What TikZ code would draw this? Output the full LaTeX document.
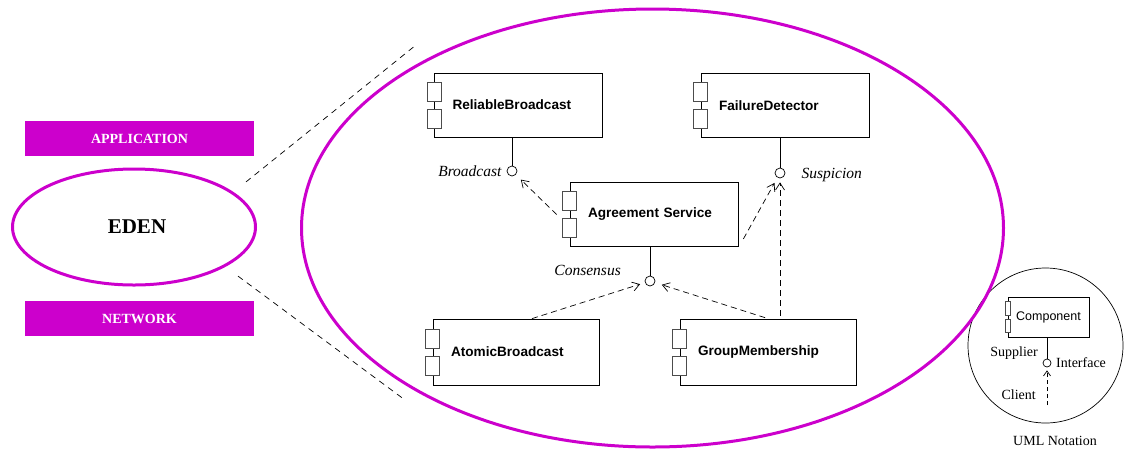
\documentclass[tikz,border=0pt]{standalone}
\usepackage{fontspec}
\setmainfont{Liberation Serif}
\setsansfont{Liberation Sans}
\usetikzlibrary{shapes.geometric,arrows.meta,positioning}
\definecolor{edenmag}{RGB}{204,0,204}

\begin{document}
\begin{tikzpicture}[x=1pt,y=-1pt,
  layer/.style={fill=edenmag, minimum width=229pt, minimum height=35pt, inner sep=0pt,
    text=white, font=\bfseries\fontsize{14}{16}\selectfont},
  comp/.style={draw, line width=0.8pt, rectangle, minimum width=168pt, minimum height=64pt,
    inner sep=0pt, text width=132pt, align=left, font=\sffamily\bfseries\fontsize{13.6}{15}\selectfont},
  port/.style={draw=black!70, fill=white, line width=0.7pt},
  iface/.style={circle, draw, line width=0.7pt, minimum size=10pt, inner sep=0pt},
  lbl/.style={font=\itshape\fontsize{15.5}{18}\selectfont, inner sep=0pt, text height=10pt, text depth=0pt},
  note/.style={font=\fontsize{14}{16}\selectfont, inner sep=0pt, text height=9.5pt, text depth=0pt},
  dep/.style={line width=0.7pt, dash pattern=on 6pt off 4pt, -{Straight Barb[length=7pt,width=9pt]}},
  zoomline/.style={line width=0.7pt, dash pattern=on 6pt off 5pt}]

  \useasboundingbox (0,0) rectangle (1124,451);

  % Left side: layers and EDEN
  \node[layer] (app) at (139.5,138.5) {APPLICATION};
  \node[layer] (net) at (139.5,318.5) {NETWORK};
  \node[ellipse, draw=edenmag, line width=3pt, minimum width=243pt, minimum height=116pt,
    inner sep=0pt, font=\bfseries\fontsize{21}{23}\selectfont] (eden) at (134,227) {\hspace*{6pt}EDEN};

  % UML notation corner
  \node[circle, draw, line width=0.7pt, minimum size=155pt, inner sep=0pt] (uml) at (1045.5,345.5) {};
  \node[draw, line width=0.8pt, minimum width=81pt, minimum height=40pt, inner sep=0pt,
    font=\sffamily\fontsize{12.5}{14}\selectfont] (cmp) at (1048.5,317) {Component};
  \draw[port] ([xshift=-2.5pt,yshift=2pt]cmp.west) rectangle ++(5pt,13.5pt);
  \draw[port] ([xshift=-2.5pt,yshift=-2pt]cmp.west) rectangle ++(5pt,-13.5pt);
  \node[iface, minimum size=8pt] (uif) at (1047,363) {};
  \coordinate (ucl) at (1047,405);
  \node[note, anchor=east] (sup) at (1038,352) {Supplier};
  \node[note, anchor=west] (intf) at (1056,363) {Interface};
  \node[note, anchor=east] (cli) at (1036,395) {Client};
  \node[note] (umlcap) at (1055,441) {UML Notation};
  \draw[line width=0.7pt] (uif |- cmp.south) -- (uif);
  \draw[dep, dash pattern=on 4pt off 3pt, -{Straight Barb[length=5pt,width=7pt]}, shorten >=3pt] (ucl) -- (uif);

  % Zoomed view of EDEN
  \node[ellipse, draw=edenmag, line width=3pt, minimum width=702pt, minimum height=438pt,
    inner sep=0pt] (core) at (652.5,228) {};
  \coordinate (zt) at (416,45);
  \coordinate (zb) at (405,400);
  \draw[zoomline] ([shift={(25,-3)}]eden.north east) -- (zt);
  \draw[zoomline] ([shift={(17,7)}]eden.south east) -- (zb);

  % Components
  \node[comp] (rb) at (518.5,105) {ReliableBroadcast};
  \node[comp] (fd) at (785,105.5) {FailureDetector};
  \node[comp] (as) at (654,214.5) {Agreement Service};
  \node[comp, minimum width=166pt, minimum height=66pt, text width=130pt] (ab) at (516,352) {AtomicBroadcast};
  \node[comp, minimum width=176pt, minimum height=66pt, text width=140pt] (gm) at (768,352) {GroupMembership};
  \foreach \c in {rb,fd,as,ab,gm}{
    \draw[port] ([xshift=-7pt,yshift=4pt]\c.west) rectangle ++(14pt,19pt);
    \draw[port] ([xshift=-7pt,yshift=-4pt]\c.west) rectangle ++(14pt,-19pt);
  }

  % Interfaces
  \node[iface] (bc) at (512,171) {};
  \node[iface] (su) at (780,173) {};
  \node[iface] (co) at (650,281) {};
  \node[lbl, left=5pt of bc] (bclbl) {Broadcast};
  \node[lbl, right=16pt of su] (sulbl) {Suspicion};
  \node[lbl, anchor=east] (colbl) at (621,270) {Consensus};
  \draw[line width=0.7pt] (bc |- rb.south) -- (bc);
  \draw[line width=0.7pt] (su |- fd.south) -- (su);
  \draw[line width=0.7pt] (co |- as.south) -- (co);

  % Dependencies
  \draw[dep, shorten >=7pt] ([xshift=-13pt]as.west) -- (bc);
  \draw[dep, shorten >=6pt] ([shift={(5,-8)}]as.south east) -- (su);
  \draw[dep, shorten <=3pt, shorten >=4pt] (su |- gm.north) -- (su);
  \draw[dep, shorten >=5pt] ([xshift=16pt]ab.north) -- (co);
  \draw[dep, shorten <=3pt, shorten >=7pt] (gm.north) -- (co);
\end{tikzpicture}
\end{document}
